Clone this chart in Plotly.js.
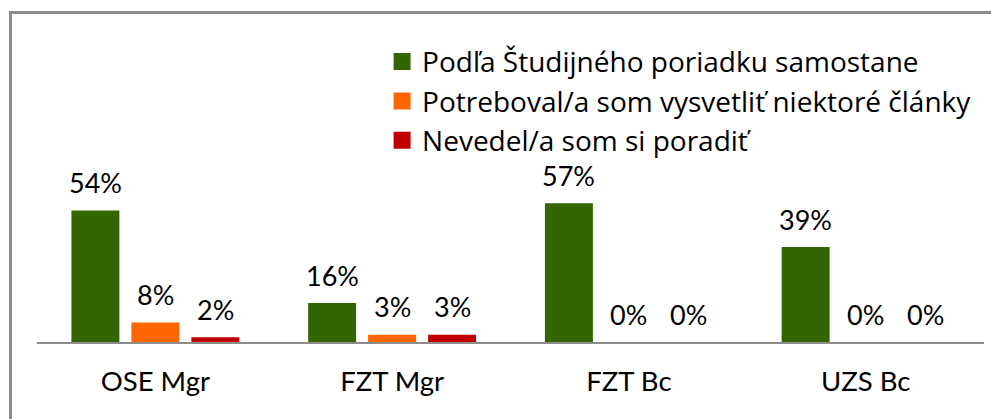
<!DOCTYPE html>
<html><head><meta charset="utf-8">
<script src="https://cdn.plot.ly/plotly-3.0.1.min.js"></script>
<style>
html,body{margin:0;padding:0;background:#fff;overflow:hidden;}
#frame{position:absolute;left:9px;top:11px;width:1100px;height:600px;border:3px solid #8c8c8c;box-sizing:border-box;}
#chart{position:absolute;left:0;top:0;width:991px;height:419px;}
</style></head>
<body>
<div id="frame"></div>
<div id="chart"></div>
<script>
const categories = ["OSE Mgr", "FZT Mgr", "FZT Bc", "UZS Bc"];
const seriesNames = ["Podľa Študijného poriadku samostane", "Potreboval/a som vysvetliť niektoré články", "Nevedel/a som si poradiť"];
const samostane = [54, 16, 57, 39];
const vysvetlit = [8, 3, 0, 0];
const neporadil = [2, 3, 0, 0];
const colors = ["#336600", "#FF6600", "#C00000"];

const series = [samostane, vysvetlit, neporadil];
const font = "Lato, 'Open Sans', sans-serif";
const legendFont = "'Open Sans', Lato, sans-serif";
const traces = series.map((vals, i) => ({
  type: "bar", x: categories, y: vals, name: seriesNames[i],
  marker: {color: colors[i]}, hoverinfo: "skip"
}));
const shifts = [-60, 0, 60];
const annotations = [];
series.forEach((vals, i) => {
  vals.forEach((v, j) => {
    annotations.push({x: categories[j], y: v, xref: "x", yref: "y", text: v + "%",
      showarrow: false, xshift: shifts[i], yshift: 28, yanchor: "middle",
      font: {family: font, size: 27, color: "#000"}});
  });
});
const layout = {
  width: 991, height: 419,
  paper_bgcolor: "rgba(0,0,0,0)", plot_bgcolor: "rgba(0,0,0,0)",
  margin: {l: 37, r: 7, t: 30, b: 77},
  barmode: "group", bargap: 0.24, bargroupgap: 0.2,
  showlegend: true,
  legend: {x: 0.3644, xref: "paper", xanchor: "left", y: 0.978, yref: "paper", yanchor: "top",
    font: {family: legendFont, size: 28, color: "#000"}, tracegroupgap: 0, itemwidth: 30, bgcolor: "rgba(0,0,0,0)"},
  xaxis: {showline: true, linecolor: "#8c8c8c", linewidth: 2, ticks: "", showgrid: false,
    tickfont: {family: font, size: 27.5, color: "#000"}, ticklabelstandoff: 14},
  yaxis: {range: [0, 128.1], visible: false, showgrid: false, zeroline: false},
  annotations: annotations
};
Plotly.newPlot("chart", traces, layout, {displayModeBar: false, staticPlot: true}).then(gd => {
  gd.querySelectorAll(".legend .legendpoints path").forEach(p => {
    p.setAttribute("d", "M8.5,8.5H-8.5V-8.5H8.5Z");
    p.style.strokeWidth = "0";
  });
});
</script>
</body></html>
